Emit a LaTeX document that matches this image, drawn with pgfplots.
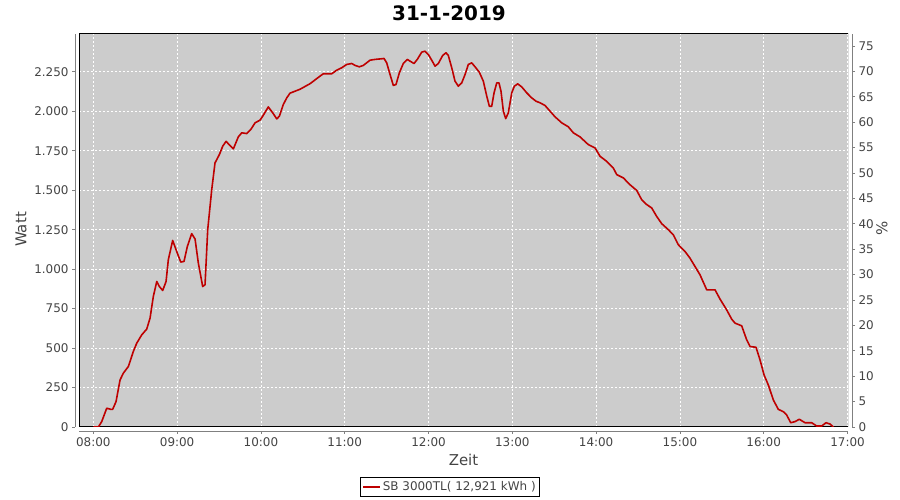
\documentclass[border=0pt]{standalone}
\usepackage{pgfplots}
\pgfplotsset{compat=1.18}
\usepackage{pgfplotstable}
\usepackage{fontspec}
\setmainfont{DejaVu Sans}
\definecolor{bg}{RGB}{204,204,204}
\definecolor{series}{RGB}{190,0,0}
\definecolor{ticktxt}{RGB}{68,68,68}
\definecolor{axline}{RGB}{128,128,128}

\pgfplotstableread{
h w
8.000 0
8.060 0
8.100 34
8.160 119
8.208 112
8.231 112
8.271 161
8.319 298
8.358 341
8.418 383
8.477 478
8.518 531
8.578 584
8.637 620
8.677 690
8.716 827
8.757 922
8.788 890
8.828 865
8.868 922
8.895 1060
8.947 1182
8.995 1112
9.043 1045
9.082 1049
9.122 1144
9.174 1225
9.214 1191
9.253 1039
9.305 890
9.333 901
9.365 1250
9.413 1504
9.452 1673
9.504 1726
9.544 1779
9.584 1810
9.631 1783
9.671 1762
9.730 1838
9.771 1864
9.831 1859
9.878 1884
9.930 1927
9.989 1944
10.021 1969
10.088 2028
10.141 1990
10.189 1952
10.220 1969
10.267 2043
10.308 2085
10.347 2115
10.467 2140
10.586 2175
10.705 2223
10.745 2238
10.845 2238
10.905 2261
10.964 2276
11.024 2297
11.084 2303
11.123 2291
11.174 2282
11.222 2291
11.302 2324
11.362 2329
11.442 2333
11.469 2335
11.501 2307
11.541 2233
11.580 2164
11.612 2170
11.652 2244
11.699 2303
11.747 2329
11.779 2318
11.827 2303
11.866 2329
11.919 2375
11.958 2381
11.998 2360
12.038 2324
12.078 2286
12.117 2303
12.169 2354
12.209 2371
12.236 2354
12.277 2276
12.316 2191
12.356 2159
12.396 2180
12.436 2233
12.475 2297
12.516 2307
12.555 2282
12.606 2248
12.654 2191
12.695 2096
12.726 2032
12.754 2032
12.782 2117
12.814 2180
12.841 2180
12.865 2127
12.893 2001
12.921 1954
12.952 1990
12.993 2117
13.024 2159
13.064 2174
13.112 2155
13.172 2117
13.232 2085
13.283 2064
13.331 2054
13.390 2037
13.450 2001
13.510 1965
13.590 1927
13.668 1902
13.728 1864
13.808 1838
13.907 1789
13.987 1768
14.047 1715
14.126 1683
14.205 1641
14.246 1599
14.325 1578
14.404 1535
14.484 1499
14.544 1440
14.604 1409
14.663 1388
14.723 1334
14.783 1288
14.862 1250
14.921 1218
14.981 1155
15.061 1112
15.120 1070
15.180 1017
15.240 964
15.320 869
15.419 869
15.479 810
15.558 742
15.618 683
15.658 658
15.737 641
15.797 552
15.837 510
15.908 505
15.956 425
16.004 330
16.055 266
16.115 171
16.174 112
16.234 97
16.274 76
16.322 27
16.373 34
16.425 49
16.493 27
16.573 27
16.632 6
16.692 6
16.743 27
16.791 19
16.831 0
}\datatable

\begin{document}
\begin{tikzpicture}[x=1bp,y=1bp]
\useasboundingbox (0,0) rectangle (900,500);
\node[font=\bfseries\fontsize{20}{20}\selectfont, text=black] at (449,487) {31-1-2019};
\begin{axis}[
  at={(79bp,73bp)}, anchor=south west, scale only axis,
  width=769bp, height=393bp,
  xmin=7.829, xmax=17.006, ymin=0, ymax=2490,
  axis background/.style={fill=bg},
  axis x line*=bottom, axis y line*=left,
  axis x line shift=4bp, axis y line shift=4bp,
  axis line style={axline, line width=0.8bp, -},
  tick align=outside, major tick length=3bp,
  tick style={axline, line width=0.8bp},
  xtick={8,9,...,17},
  xticklabels={08:00,09:00,10:00,11:00,12:00,13:00,14:00,15:00,16:00,17:00},
  ytick={0,250,...,2250},
  yticklabels={0,250,500,750,1.000,1.250,1.500,1.750,2.000,2.250},
  /pgf/number format/assume math mode=true,
  ticklabel style={font=\fontsize{12}{12}\selectfont, text=ticktxt},
  grid=major,
  major grid style={white, line width=0.8bp, dash pattern=on 2bp off 2bp},
  xlabel={Zeit},
  ylabel={Watt},
  label style={font=\fontsize{15}{15}\selectfont, text=ticktxt},
  xlabel style={at={(axis description cs:0.5,-0.084)}, anchor=center},
  ylabel style={at={(axis description cs:-0.0754,0.5025)}, anchor=center},
  legend style={at={(axis description cs:0.4824,-0.1527)}, anchor=center,
    draw=black, fill=white, font=\fontsize{12}{12}\selectfont, text=ticktxt,
    inner sep=2bp, line width=0.8bp},
  legend cell align=left,
]
\draw[black, line width=1bp] (rel axis cs:0,0) rectangle (rel axis cs:1,1);
\addplot[series, line width=1.6bp, line join=round] table[x=h, y=w] {\datatable};
\addlegendentry{SB 3000TL( 12,921 kWh )}
\end{axis}
\begin{axis}[
  at={(79bp,73bp)}, anchor=south west, scale only axis,
  width=769bp, height=393bp,
  xmin=7.829, xmax=17.006, ymin=0, ymax=77.36,
  hide x axis,
  axis y line*=right, axis y line shift=4bp,
  axis line style={axline, line width=0.8bp, -},
  tick align=outside, major tick length=3bp,
  tick style={axline, line width=0.8bp},
  ytick={0,5,...,75},
  /pgf/number format/assume math mode=true,
  ticklabel style={font=\fontsize{12}{12}\selectfont, text=ticktxt},
  ylabel={\%},
  ylabel style={font=\fontsize{15}{15}\selectfont, text=ticktxt,
    at={(axis description cs:1.0442,0.506)}, anchor=center},
]
\addplot[draw=none, forget plot] coordinates {(8,0) (9,0)};
\end{axis}
\end{tikzpicture}
\end{document}
